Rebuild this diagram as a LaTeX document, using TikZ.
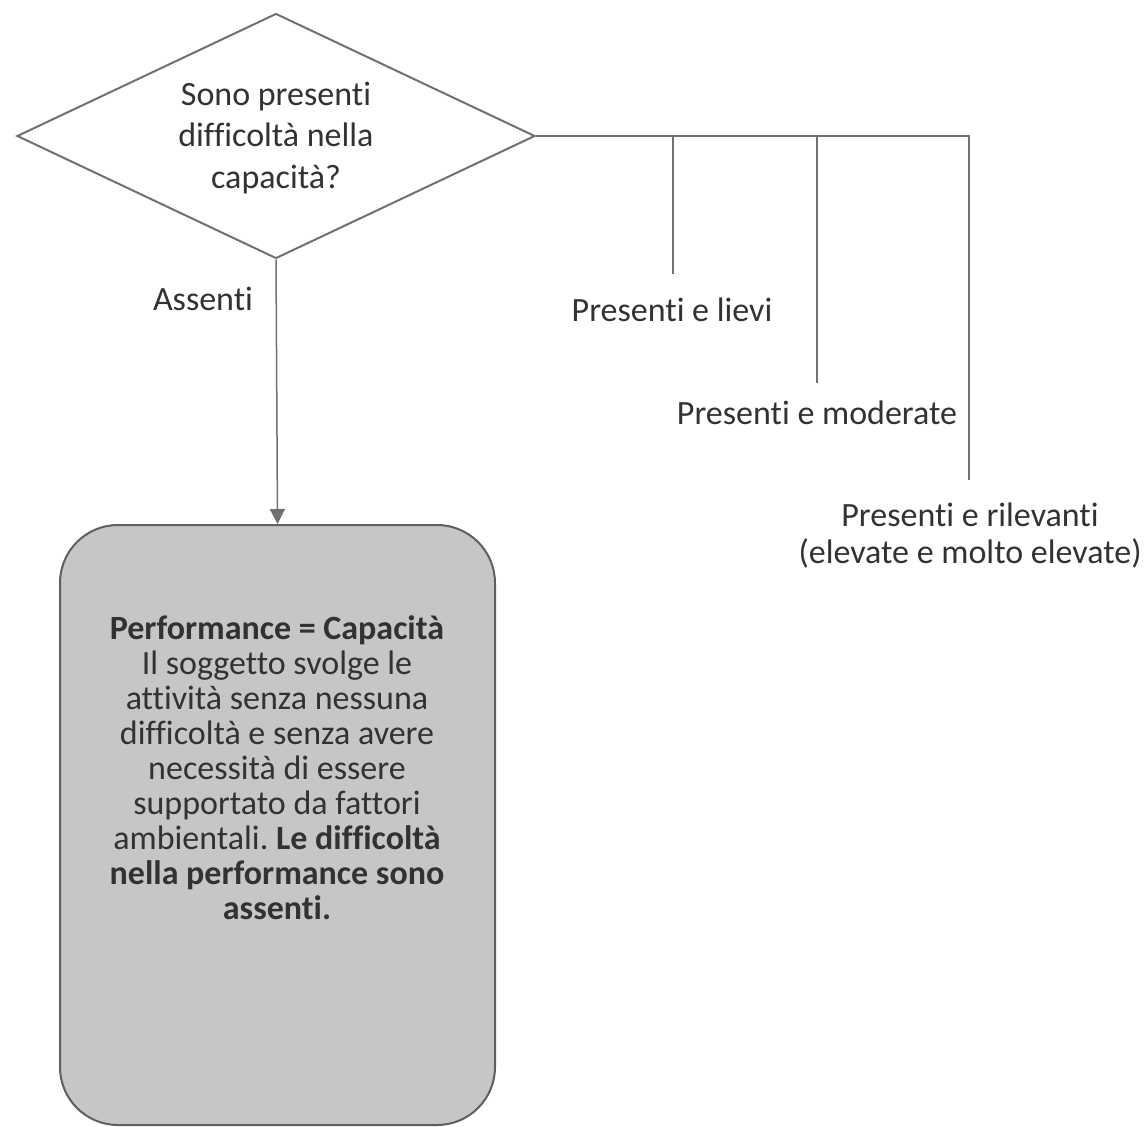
\documentclass[tikz,border=0pt]{standalone}
\usepackage{fontspec}
\setmainfont{Carlito}[Ligatures=NoCommon]
\frenchspacing
\usetikzlibrary{shapes.geometric,arrows.meta}
\definecolor{linecol}{RGB}{112,112,112}
\definecolor{txtcol}{RGB}{50,50,50}
\definecolor{boxfill}{RGB}{198,198,198}
\definecolor{boxdraw}{RGB}{95,95,95}
\begin{document}
\begin{tikzpicture}[x=1pt,y=-1pt,
  lbl/.style={text=txtcol, font=\fontsize{34}{38}\selectfont, inner sep=0pt, align=center},
  conn/.style={draw=linecol, line width=1.5pt},
  decision/.style={diamond, draw=linecol, line width=2pt, minimum width=518pt,
    minimum height=245pt, inner sep=0pt, aspect=2.1},
  outcome/.style={rectangle, rounded corners=58pt, draw=boxdraw, fill=boxfill,
    line width=2pt, minimum width=435pt, minimum height=600pt, inner sep=0pt}]
\useasboundingbox (0,0) rectangle (1146,1127);

% decision
\node[decision] (q) at (276,136) {};
\node[lbl, font=\fontsize{34}{41.5}\selectfont] (qtxt) at (276,138)
  {Sono presenti\\difficoltà nella\\capacità?};

% outcome box
\node[outcome] (box) at (277.5,825) {};
\node[lbl, font=\fontsize{34}{35}\selectfont] (boxtxt) at (277,768)
  {\textbf{Performance = Capacità}\\
   Il soggetto svolge le\\
   attività senza nessuna\\
   difficoltà e senza avere\\
   necessità di essere\\
   supportato da fattori\\
   ambientali. \textbf{Le difficoltà}\\
   \textbf{nella performance sono}\\
   \textbf{assenti.}};

% connector to box
\draw[conn, -{Triangle[width=15pt,length=15pt]}] (q.south) -- (box.north);
\node[lbl, anchor=base] (lassenti) at (203,310) {Assenti};

% branches on the right
\coordinate (j1) at (673,136);
\coordinate (j2) at (817,136);
\coordinate (j3) at (969,136);
\coordinate (e1) at (673,274);
\coordinate (e2) at (817,383);
\coordinate (e3) at (969,480);
\draw[conn] (q.east) -- (j3) -- (e3);
\draw[conn] (j1) -- (e1);
\draw[conn] (j2) -- (e2);

\node[lbl, anchor=base] (llievi) at (672,321) {Presenti e lievi};
\node[lbl, anchor=base] (lmod) at (817,424) {Presenti e moderate};
\node[lbl, font=\fontsize{34}{37}\selectfont] (lril) at (970,536)
  {Presenti e rilevanti\\(elevate e molto elevate)};
\end{tikzpicture}
\end{document}
